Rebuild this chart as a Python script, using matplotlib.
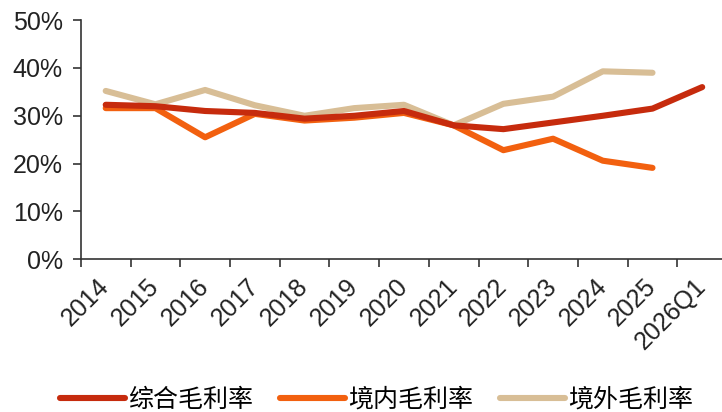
import matplotlib.pyplot as plt
from matplotlib.ticker import FuncFormatter

plt.rcParams['font.family'] = ['Liberation Sans', 'Noto Sans CJK SC', 'DejaVu Sans']

# 数据 (%)
periods = ['2014', '2015', '2016', '2017', '2018', '2019', '2020',
           '2021', '2022', '2023', '2024', '2025', '2026Q1']
total_margin = [32.3, 32.0, 31.0, 30.6, 29.4, 30.0, 31.0, 28.0, 27.2, 28.6, 30.0, 31.5, 36.0]
domestic_margin = [31.6, 31.6, 25.5, 30.4, 29.0, 29.6, 30.6, 28.0, 22.8, 25.2, 20.6, 19.1]
overseas_margin = [35.2, 32.4, 35.4, 32.2, 30.0, 31.6, 32.3, 28.0, 32.5, 34.0, 39.3, 39.0]
legend_labels = ['综合毛利率', '境内毛利率', '境外毛利率']

colors = ['#C62B0D', '#F2600F', '#D8BE96']

fig = plt.figure(figsize=(7.22, 4.12), dpi=100)
ax = fig.add_axes([0.112, 0.371, 0.895, 0.580])

x_total = list(range(len(total_margin)))
x_dom = list(range(len(domestic_margin)))
x_ovs = list(range(len(overseas_margin)))

lw = 4.4
ax.plot(x_dom, domestic_margin, color=colors[1], lw=lw, label=legend_labels[1],
        solid_capstyle='round', solid_joinstyle='round', zorder=3)
ax.plot(x_total, total_margin, color=colors[0], lw=lw, label=legend_labels[0],
        solid_capstyle='round', solid_joinstyle='round', zorder=4)
ax.plot(x_ovs, overseas_margin, color=colors[2], lw=lw, label=legend_labels[2],
        solid_capstyle='round', solid_joinstyle='round', zorder=2)

ax.set_xlim(-0.5, len(periods) - 0.5)
ax.set_ylim(0, 50)
ax.set_yticks([0, 10, 20, 30, 40, 50])
ax.yaxis.set_major_formatter(FuncFormatter(lambda v, p: f'{v:.0f}%'))

# 刻度线在类别之间, 标签在类别中心
ax.set_xticks([i - 0.5 for i in range(len(periods) + 1)])
ax.set_xticklabels([])
ax.set_xticks(range(len(periods)), minor=True)
ax.set_xticklabels(periods, minor=True, rotation=45, ha='right', va='center',
                   rotation_mode='anchor', fontsize=18, color='#222222')
ax.tick_params(axis='x', which='minor', length=0, pad=17)
ax.tick_params(axis='x', which='major', length=6, width=1.2, color='#333333')
ax.tick_params(axis='y', length=6, width=1.2, color='#333333', pad=7,
               labelsize=18, labelcolor='#222222')

for s in ['top', 'right']:
    ax.spines[s].set_visible(False)
for s in ['left', 'bottom']:
    ax.spines[s].set_color('#333333')
    ax.spines[s].set_linewidth(1.2)

handles, labels = ax.get_legend_handles_labels()
order = [1, 0, 2]
fig.legend([handles[i] for i in order], [labels[i] for i in order],
           loc='center', bbox_to_anchor=(0.5215, 0.03), ncol=3, frameon=False,
           handlelength=2.6, handletextpad=0.15, columnspacing=1.05,
           prop={'family': ['Noto Sans CJK SC', 'DejaVu Sans'], 'size': 18})

fig.savefig('out.png', dpi=100)
